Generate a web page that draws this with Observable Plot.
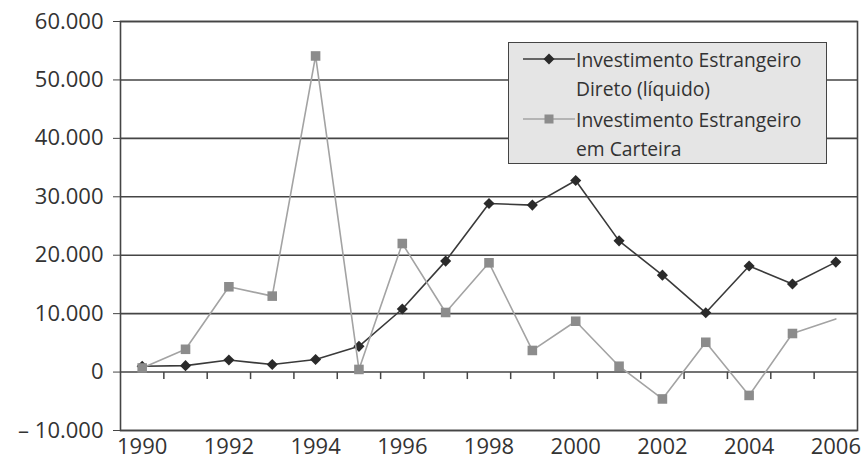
<!DOCTYPE html>
<html><head><meta charset="utf-8">
<script src="https://cdn.jsdelivr.net/npm/d3@7"></script>
<script src="https://cdn.jsdelivr.net/npm/@observablehq/plot@0.6"></script>
<style>
body{margin:0;background:#fff;}
#wrap{position:relative;width:865px;height:461px;}
#legend{position:absolute;left:508px;top:42px;width:319px;height:122px;box-sizing:border-box;background:#e5e5e5;border:1.5px solid #444;font-family:"Open Sans",sans-serif;font-size:19.3px;color:#333;}
.item{position:absolute;left:0;width:100%;}
.item svg{position:absolute;left:14px;}
.item .lab{position:absolute;left:67px;line-height:29px;white-space:nowrap;}
</style>
</head><body>
<div id="wrap"><div id="chart"></div><div id="legend"></div></div>
<script>
const years = [1990,1991,1992,1993,1994,1995,1996,1997,1998,1999,2000,2001,2002,2003,2004,2005,2006];
const fdi = [989,1102,2061,1291,2150,4405,10792,18993,28856,28578,32779,22457,16590,10144,18146,15066,18822];
const portfolio = [700,3900,14600,13000,54100,450,22000,10200,18700,3700,8700,1000,-4600,5100,-4000,6600,9100];
const portfolioMarkerYears = [1990,1991,1992,1993,1994,1995,1996,1997,1998,1999,2000,2001,2002,2003,2004,2005];
const yTicks = [-10000,0,10000,20000,30000,40000,50000,60000];
const xTickLabels = [1990,1992,1994,1996,1998,2000,2002,2004,2006];
const catBoundaries = [1990.5,1991.5,1992.5,1993.5,1994.5,1995.5,1996.5,1997.5,1998.5,1999.5,2000.5,2001.5,2002.5,2003.5,2004.5,2005.5];
const seriesNames = ["Investimento Estrangeiro\nDireto (líquido)", "Investimento Estrangeiro\nem Carteira"];

const fdiData = years.map((y,i)=>({year:y, value:fdi[i]}));
const pfData = years.map((y,i)=>({year:y, value:portfolio[i]}));

const loc = d3.formatLocale({decimal:",", thousands:".", grouping:[3], currency:["",""]});
const fmt = loc.format(",");
const yFormat = d => d < 0 ? "\u2013 " + fmt(-d) : fmt(d);

const tickSymbol = {draw(ctx){ ctx.moveTo(0,0); ctx.lineTo(0,7); }};

const grid = "#454545";
const chart = Plot.plot({
  width: 865, height: 461,
  marginLeft: 120, marginRight: 8, marginTop: 21, marginBottom: 31,
  style: {fontFamily: "'Open Sans', sans-serif", fontSize: "22px", color: "#333", background: "#fff"},
  x: {type: "linear", domain: [1989.5, 2006.5]},
  y: {domain: [-10000, 60000]},
  marks: [
    Plot.ruleY(yTicks, {stroke: grid, strokeWidth: 1.6}),
    Plot.frame({stroke: grid, strokeWidth: 1.6}),
    Plot.dot(catBoundaries, {x: d => d, y: () => 0, symbol: tickSymbol, stroke: grid, fill: "none", strokeWidth: 1.5}),
    Plot.axisY({ticks: yTicks, tickFormat: yFormat, tickSize: 7, tickPadding: 10, stroke: grid, fontSize: 22, label: null}),
    Plot.axisX({ticks: xTickLabels, tickFormat: d => String(d), tickSize: 0, tickPadding: 8, fontSize: 22, label: null}),
    Plot.line(fdiData, {x: "year", y: "value", stroke: "#3a3a3a", strokeWidth: 1.6}),
    Plot.dot(fdiData, {x: "year", y: "value", symbol: "diamond2", r: 5, fill: "#2a2a2a"}),
    Plot.line(pfData, {x: "year", y: "value", stroke: "#a3a3a3", strokeWidth: 1.6}),
    Plot.dot(pfData.filter(d => portfolioMarkerYears.includes(d.year)), {x: "year", y: "value", symbol: "square", r: 5.4, fill: "#8c8c8c"})
  ]
});
document.getElementById("chart").appendChild(chart);

const legend = document.getElementById("legend");
const swatches = [
  '<svg width="52" height="14"><line x1="0" y1="7" x2="52" y2="7" stroke="#3a3a3a" stroke-width="1.6"/><polygon points="26,1.5 31.5,7 26,12.5 20.5,7" fill="#2a2a2a"/></svg>',
  '<svg width="52" height="14"><line x1="0" y1="7" x2="52" y2="7" stroke="#a3a3a3" stroke-width="1.6"/><rect x="21.5" y="2.5" width="9" height="9" fill="#8c8c8c"/></svg>'
];
const tops = [1.5, 61.5];
seriesNames.forEach((name, i) => {
  const it = document.createElement("div");
  it.className = "item";
  it.style.top = tops[i] + "px";
  it.innerHTML = swatches[i].replace("<svg", '<svg style="top:7.5px"') + '<div class="lab">' + name.split("\n").join("<br>") + '</div>';
  legend.appendChild(it);
});
</script>
</body></html>
